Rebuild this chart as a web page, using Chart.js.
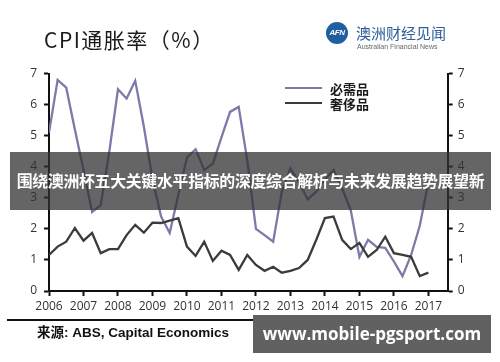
<!DOCTYPE html>
<html>
<head>
<meta charset="utf-8">
<script src="https://cdn.jsdelivr.net/npm/chart.js@4.4.0/dist/chart.umd.min.js"></script>
<style>
  html, body { margin: 0; padding: 0; background: #fff; }
  #wrap { position: relative; width: 500px; height: 362px; overflow: hidden; font-family: "Noto Sans CJK SC", "Noto Sans", sans-serif; }
  #myChart { position: absolute; left: 0; top: 0; }
  #title { position: absolute; left: 44px; top: 25px; font-size: 21px; line-height: 28px; color: #1a1a1a; white-space: nowrap; letter-spacing: 1.5px; }
  #logo { position: absolute; left: 326px; top: 22px; width: 22px; height: 22px; border-radius: 50%; background: #1d5f9f; color: #fff; font: italic bold 8px "Liberation Sans", sans-serif; line-height: 22px; text-align: center; letter-spacing: -0.5px; }
  #logoCn { position: absolute; left: 356px; top: 23px; font-size: 15px; line-height: 19px; color: #2c5d97; white-space: nowrap; }
  #logoEn { position: absolute; left: 357px; top: 43px; font: 7px "Liberation Sans", sans-serif; color: #666; white-space: nowrap; }
  #banner { position: absolute; left: 10px; top: 152px; width: 481px; height: 58px; background: rgba(50, 50, 50, 0.75); color: #fff; font-weight: bold; font-size: 15.9px; line-height: 58px; text-align: center; white-space: nowrap; letter-spacing: -0.3px; }
  #rule { position: absolute; left: 7px; top: 319px; width: 483px; height: 2px; background: #111; }
  #source { position: absolute; left: 37px; top: 324px; font: bold 13.5px "Liberation Sans", "Noto Sans CJK SC", sans-serif; line-height: 18px; color: #111; white-space: nowrap; }
  #mark { position: absolute; left: 253px; top: 315px; width: 238px; height: 38px; background: #616161; color: #fff; font: bold 17px "Open Sans", sans-serif; line-height: 38px; text-align: center; white-space: nowrap; }
</style>
</head>
<body>
<div id="wrap">
  <canvas id="myChart" width="500" height="362"></canvas>
  <div id="title">CPI通胀率（%）</div>
  <div id="logo">AFN</div>
  <div id="logoCn">澳洲财经见闻</div>
  <div id="logoEn">Australian Financial News</div>
  <div id="banner">围绕澳洲杯五大关键水平指标的深度综合解析与未来发展趋势展望新</div>
  <div id="rule"></div>
  <div id="source">来源: ABS, Capital Economics</div>
  <div id="mark">www.mobile-pgsport.com</div>
</div>
<script>
'use strict';

// Data (quarterly, 2006 Q1 .. 2017 Q1)
const seriesNames = ['必需品', '奢侈品'];
const yearTicks = [2006, 2007, 2008, 2009, 2010, 2011, 2012, 2013, 2014, 2015, 2016, 2017];
const yTicks = [0, 1, 2, 3, 4, 5, 6, 7];

const essentials = [
  5.1, 6.8, 6.55, 5.2,
  3.9, 2.55, 2.77, 4.5,
  6.5, 6.2, 6.77, 5.3,
  3.6, 2.4, 1.87, 3.1,
  4.3, 4.57, 3.9, 4.1,
  4.95, 5.77, 5.93, 4.2,
  2.0, 1.8, 1.59, 3.2,
  3.95, 3.5, 2.95, 3.2,
  3.6, 3.9, 3.3, 2.6,
  1.1, 1.65, 1.42, 1.39,
  0.95, 0.48, 1.16, 2.1,
  3.5
];

const luxury = [
  1.16, 1.43, 1.59, 2.03,
  1.62, 1.87, 1.22, 1.35,
  1.35, 1.8, 2.13, 1.88,
  2.2, 2.19, 2.27, 2.35,
  1.43, 1.13, 1.59, 0.97,
  1.3, 1.16, 0.68, 1.16,
  0.84, 0.65, 0.78, 0.59,
  0.65, 0.74, 1.0, 1.65,
  2.35, 2.4, 1.65, 1.35,
  1.55, 1.1, 1.32, 1.75,
  1.22, 1.16, 1.1, 0.48,
  0.59
];

// quarter positions on the time axis
const quarters = [];
for (let i = 0; i < essentials.length; i++) {
  quarters.push(2006 + i * 0.25);
}

const colors = ['#7b7aa8', '#3b3b3b'];

function toPoints(values) {
  return values.map((v, i) => ({ x: quarters[i], y: v }));
}

// legend drawn inside the plot, top right
const legendPlugin = {
  id: 'innerLegend',
  afterDraw(chart) {
    const ctx = chart.ctx;
    ctx.save();
    chart.data.datasets.forEach((ds, i) => {
      const y = 88 + i * 15;
      ctx.strokeStyle = ds.borderColor;
      ctx.lineWidth = 2;
      ctx.beginPath();
      ctx.moveTo(285, y);
      ctx.lineTo(322, y);
      ctx.stroke();
      ctx.fillStyle = '#1a1a1a';
      ctx.font = 'bold 13px "Noto Sans CJK SC", sans-serif';
      ctx.textBaseline = 'middle';
      ctx.fillText(ds.label, 330, y + 1);
    });
    ctx.restore();
  }
};

const tickFont = { family: '"Open Sans", sans-serif', size: 12 };

const ctx = document.getElementById('myChart');
let chart = new Chart(ctx, {
  type: 'line',
  data: {
    datasets: [
      {
        label: seriesNames[0],
        data: toPoints(essentials),
        borderColor: colors[0],
        borderWidth: 2.3,
        pointRadius: 0,
        tension: 0,
        order: 1
      },
      {
        label: seriesNames[1],
        data: toPoints(luxury),
        borderColor: colors[1],
        borderWidth: 2.3,
        pointRadius: 0,
        tension: 0,
        order: 0
      }
    ]
  },
  options: {
    responsive: false,
    animation: false,
    layout: { padding: { top: 73.7, left: 0, right: 0, bottom: 0 } },
    plugins: {
      legend: { display: false },
      tooltip: { enabled: false }
    },
    scales: {
      x: {
        type: 'linear',
        min: 2006,
        max: 2017.56,
        afterBuildTicks(scale) {
          scale.ticks = yearTicks.map(v => ({ value: v }));
        },
        afterFit(scale) { scale.height = 71; },
        ticks: {
          color: '#333',
          font: tickFont,
          padding: 3,
          maxRotation: 0,
          autoSkip: false,
          callback: v => String(v)
        },
        grid: { drawOnChartArea: false, tickLength: 5, tickWidth: 2, tickColor: '#111' },
        border: { color: '#111', width: 2 }
      },
      y: {
        position: 'left',
        min: 0,
        max: 7,
        afterBuildTicks(scale) {
          scale.ticks = yTicks.map(v => ({ value: v }));
        },
        afterFit(scale) { scale.width = 49; },
        ticks: { color: '#333', font: tickFont, padding: 7 },
        grid: { drawOnChartArea: false, tickLength: 5, tickWidth: 2, tickColor: '#111' },
        border: { color: '#111', width: 2 }
      },
      y2: {
        position: 'right',
        min: 0,
        max: 7,
        afterBuildTicks(scale) {
          scale.ticks = yTicks.map(v => ({ value: v }));
        },
        afterFit(scale) { scale.width = 52.3; },
        ticks: { color: '#333', font: tickFont, padding: 5 },
        grid: { drawOnChartArea: false, tickLength: 5, tickWidth: 2, tickColor: '#111' },
        border: { color: '#111', width: 2 }
      }
    }
  },
  plugins: [legendPlugin]
});
</script>
</body>
</html>
